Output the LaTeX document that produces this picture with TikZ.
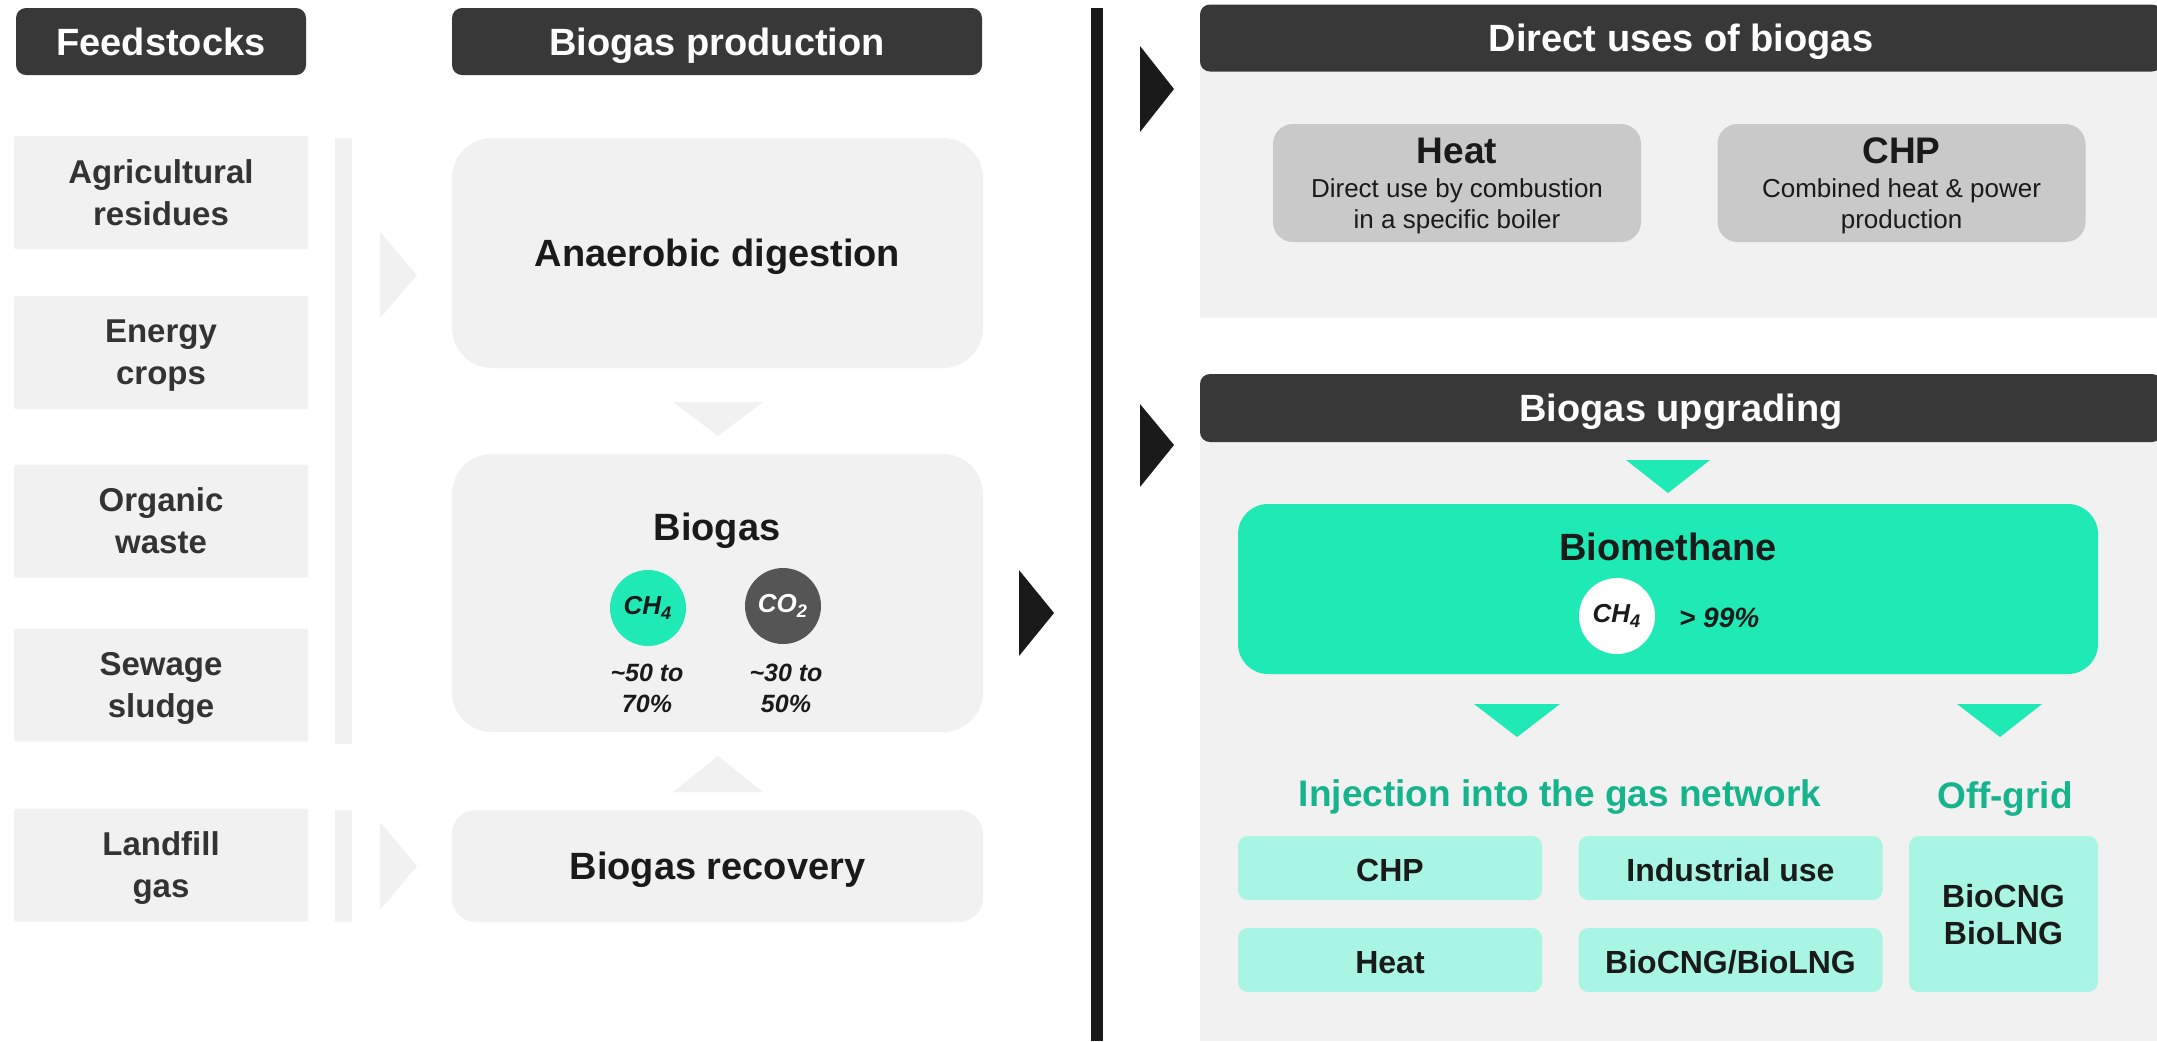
\documentclass[tikz,border=0pt]{standalone}
\usepackage{fontspec}
\setmainfont{Liberation Sans}
\definecolor{hdrgray}{RGB}{56,56,56}
\definecolor{boxgray}{RGB}{241,241,241}
\definecolor{usegray}{RGB}{201,201,201}
\definecolor{feedtext}{RGB}{51,51,51}
\definecolor{inktext}{RGB}{26,26,26}
\definecolor{teal}{RGB}{31,234,182}
\definecolor{lightteal}{RGB}{167,245,226}
\definecolor{tealtext}{RGB}{22,180,141}
\definecolor{cogray}{RGB}{85,85,85}
\tikzset{
  hdr/.style={fill=hdrgray, rounded corners=5pt, text=white, inner sep=0pt, text depth=0pt,
    font=\bfseries\fontsize{19}{23}\selectfont},
  feed/.style={fill=boxgray, rounded corners=1pt, minimum width=147pt, minimum height=56.5pt,
    inner sep=0pt, text depth=0pt, align=center, text=feedtext, font=\bfseries\fontsize{16.5}{21}\selectfont,
    execute at begin node=\rule{0pt}{15pt}},
  prod/.style={fill=boxgray, rounded corners=20pt, minimum width=265.5pt, inner sep=0pt},
  title/.style={text=inktext, text depth=0pt, font=\bfseries\fontsize{19}{23}\selectfont},
  gas/.style={circle, minimum size=38pt, inner sep=0pt, font=\bfseries\itshape\fontsize{13}{15}\selectfont},
  share/.style={align=center, text=inktext, font=\bfseries\itshape\fontsize{12.5}{15.5}\selectfont},
  use/.style={fill=usegray, rounded corners=10pt, minimum width=184pt, minimum height=59pt,
    inner sep=0pt, text depth=0pt, align=center, text=inktext, font=\fontsize{13}{15.5}\selectfont,
    execute at begin node=\rule{0pt}{16pt}},
  route/.style={fill=lightteal, rounded corners=5pt, minimum width=152pt, minimum height=32pt,
    inner sep=0pt, text depth=0pt, align=center, text=inktext, font=\bfseries\fontsize{16}{18.5}\selectfont},
  branch/.style={text=tealtext, text depth=0pt, font=\bfseries\fontsize{18.5}{22}\selectfont},
}
\begin{document}
\begin{tikzpicture}[x=0.5pt,y=-0.5pt]
\useasboundingbox (0,0) rectangle (2157,1041);
% Headers
\node[hdr, minimum width=145pt, minimum height=33.5pt] (hfeed) at (161,41.5) {Feedstocks};
\node[hdr, minimum width=265pt, minimum height=33.5pt] (hprod) at (717,41.5) {Biogas production};
% Feedstocks
\node[feed] (agri) at (161,192.5) {Agricultural\\residues};
\node[feed] (crops) at (161,352.5) {Energy\\crops};
\node[feed] (waste) at (161,521) {Organic\\waste};
\node[feed] (sludge) at (161,685) {Sewage\\sludge};
\node[feed] (landfill) at (161,865) {Landfill\\gas};
% Brackets and light arrows
\fill[boxgray] (335,138) rectangle (352,744);
\fill[boxgray] (335,810) rectangle (352,922);
\fill[boxgray] (380,232) -- (417,275) -- (380,318) -- cycle;
\fill[boxgray] (380,822) -- (417,866) -- (380,910) -- cycle;
% Production steps
\node[prod, minimum height=115pt, title] (digest) at (717.5,253) {Anaerobic digestion};
\node[prod, minimum height=139pt] (biogas) at (717.5,593) {};
\node[prod, rounded corners=12pt, minimum height=56pt, title] (recovery) at (717.5,866) {Biogas recovery};
\fill[boxgray] (673,402) -- (763,402) -- (718,436) -- cycle;
\fill[boxgray] (673,792) -- (763,792) -- (718,756) -- cycle;
\node[title] (biogasttl) at (717,527) {Biogas};
\node[gas, fill=teal, text=inktext] (ch4) at (648,608) {CH\textsubscript{4}};
\node[gas, fill=cogray, text=white] (co2) at (783,606) {CO\textsubscript{2}};
\node[share] (ch4share) at (647,688) {\textasciitilde50 to\\70\%};
\node[share] (co2share) at (786,688) {\textasciitilde30 to\\50\%};
% Divider
\fill[inktext] (1019,570) -- (1054,613) -- (1019,656) -- cycle;
\fill[inktext] (1091,8) rectangle (1103,1041);
\fill[inktext] (1140,46) -- (1174,89) -- (1140,132) -- cycle;
\fill[inktext] (1140,404) -- (1174,445) -- (1140,487) -- cycle;
% Direct uses
\fill[boxgray] (1200,60) rectangle (2157,318);
\node[hdr, minimum width=481pt, minimum height=33.5pt] (hdirect) at (1681,38) {Direct uses of biogas};
\node[use] (heat) at (1457,183) {{\bfseries\fontsize{18.5}{19}\selectfont Heat}\\[1.5pt]Direct use by combustion\\in a specific boiler};
\node[use] (chp) at (1901.5,183) {{\bfseries\fontsize{18.5}{19}\selectfont CHP}\\[1.5pt]Combined heat \& power\\production};
% Upgrading
\fill[boxgray] (1200,430) rectangle (2157,1041);
\node[hdr, minimum width=481pt, minimum height=34pt] (hupgrade) at (1681,408) {Biogas upgrading};
\fill[teal] (1626,460) -- (1710,460) -- (1668,493) -- cycle;
\node[fill=teal, rounded corners=15pt, minimum width=430pt, minimum height=85pt, inner sep=0pt] (biomethane) at (1668,589) {};
\node[title] (biomethttl) at (1668,547) {Biomethane};
\node[gas, fill=white, text=inktext] (ch4pure) at (1617,616) {CH\textsubscript{4}};
\node[anchor=west, text=inktext, font=\bfseries\itshape\fontsize{14}{16}\selectfont] (purity) at (1672,618) {> 99\%};
\fill[teal] (1474,704) -- (1560,704) -- (1517,737) -- cycle;
\fill[teal] (1957,704) -- (2042,704) -- (2000,737) -- cycle;
\node[branch] (inject) at (1560,793) {Injection into the gas network};
\node[branch] (offgrid) at (2005,795) {Off-grid};
\node[route, text height=13pt] (rchp) at (1390,868) {CHP};
\node[route, text height=13pt] (rind) at (1730.5,868) {Industrial use};
\node[route, text height=13pt] (rheat) at (1390,960) {Heat};
\node[route, text height=13pt] (rbio) at (1730.5,960) {BioCNG/BioLNG};
\node[route, minimum width=94.5pt, minimum height=78pt] (roff) at (2003.5,914) {BioCNG\\BioLNG};
\end{tikzpicture}
\end{document}
